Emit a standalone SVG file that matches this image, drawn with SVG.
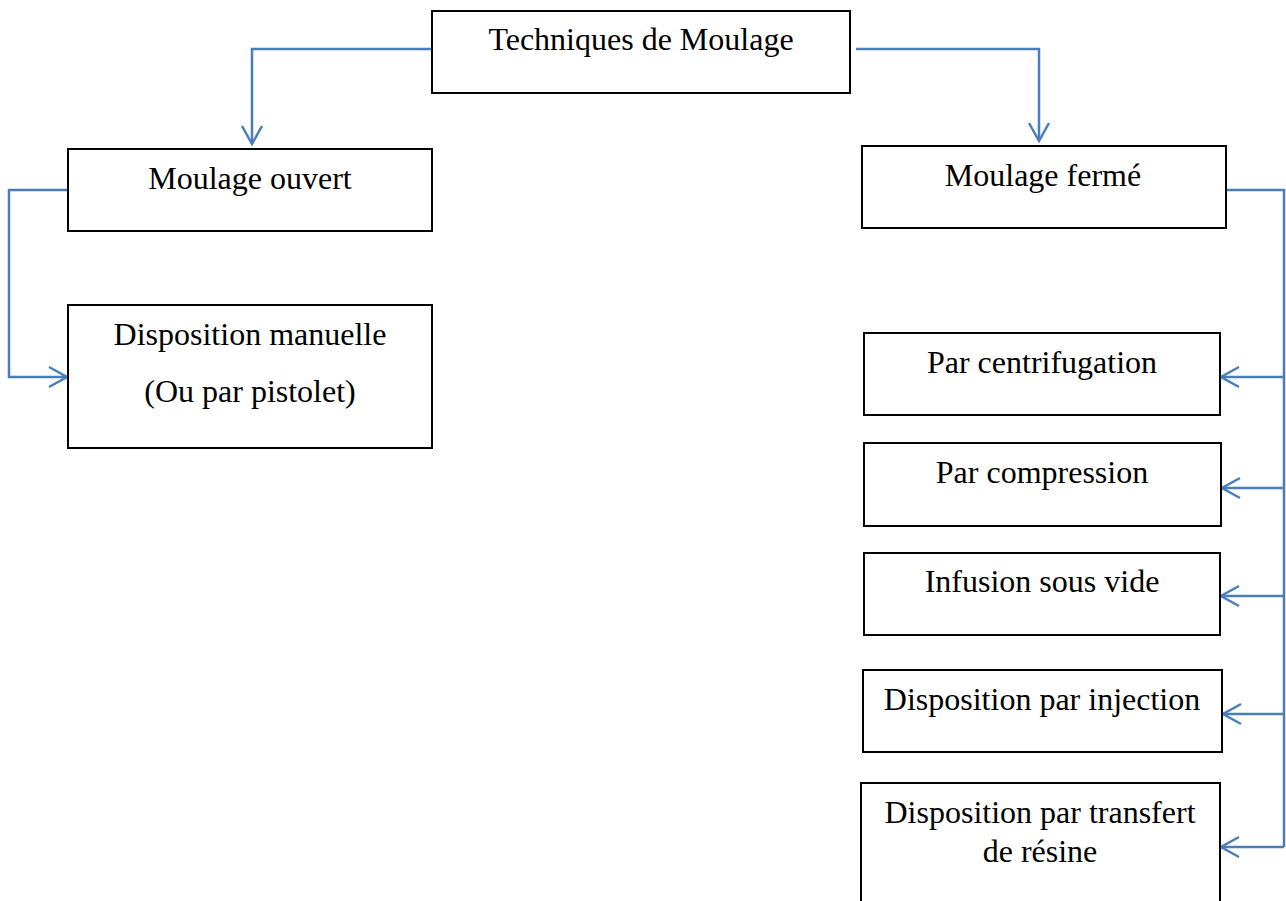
<svg xmlns="http://www.w3.org/2000/svg" width="1286" height="901" viewBox="0 0 1286 901">
<defs>
<marker id="ah" markerUnits="userSpaceOnUse" markerWidth="24" markerHeight="24" viewBox="-20 -12 24 24" refX="0" refY="0" orient="auto">
<path d="M-18,-10 L0,0 L-18,10" fill="none" stroke="#4a7ebb" stroke-width="2.5"/>
</marker>
<style>
.box{fill:#fff;stroke:#000;stroke-width:2}
.t{font-family:"Liberation Serif","Times New Roman",serif;font-size:32px;fill:#000;text-anchor:middle}
.c{fill:none;stroke:#4a7ebb;stroke-width:2.5}
</style>
</defs>
<rect width="1286" height="901" fill="#fff"/>
<g id="connectors">
<path class="c" d="M432,49 H252 V144" marker-end="url(#ah)"/>
<path class="c" d="M856,49 H1039 V141" marker-end="url(#ah)"/>
<path class="c" d="M68,190 H9 V377 H67" marker-end="url(#ah)"/>
<path class="c" d="M1226,190 H1284 V847"/>
<path class="c" d="M1284,377 H1221" marker-end="url(#ah)"/>
<path class="c" d="M1284,488 H1222" marker-end="url(#ah)"/>
<path class="c" d="M1284,596 H1221" marker-end="url(#ah)"/>
<path class="c" d="M1284,714 H1223" marker-end="url(#ah)"/>
<path class="c" d="M1284,847 H1221" marker-end="url(#ah)"/>
</g>
<g id="n-techniques">
<rect class="box" x="432" y="11" width="418" height="82"/>
<text class="t" x="641" y="50">Techniques de Moulage</text>
</g>
<g id="n-ouvert">
<rect class="box" x="68" y="149" width="364" height="82"/>
<text class="t" x="250" y="189">Moulage ouvert</text>
</g>
<g id="n-manuelle">
<rect class="box" x="68" y="305" width="364" height="143"/>
<text class="t" x="250" y="345">Disposition manuelle</text>
<text class="t" x="250" y="402">(Ou par pistolet)</text>
</g>
<g id="n-ferme">
<rect class="box" x="862" y="146" width="364" height="82"/>
<text class="t" x="1043" y="186">Moulage fermé</text>
</g>
<g id="n-centrifugation">
<rect class="box" x="864" y="333" width="356" height="82"/>
<text class="t" x="1042" y="373">Par centrifugation</text>
</g>
<g id="n-compression">
<rect class="box" x="864" y="443" width="357" height="83"/>
<text class="t" x="1042" y="483">Par compression</text>
</g>
<g id="n-infusion">
<rect class="box" x="864" y="553" width="356" height="82"/>
<text class="t" x="1042" y="592">Infusion sous vide</text>
</g>
<g id="n-injection">
<rect class="box" x="863" y="670" width="359" height="82"/>
<text class="t" x="1042" y="710">Disposition par injection</text>
</g>
<g id="n-transfert">
<rect class="box" x="861" y="783" width="359" height="130"/>
<text class="t" x="1040" y="823">Disposition par transfert</text>
<text class="t" x="1040" y="862">de résine</text>
</g>
</svg>
